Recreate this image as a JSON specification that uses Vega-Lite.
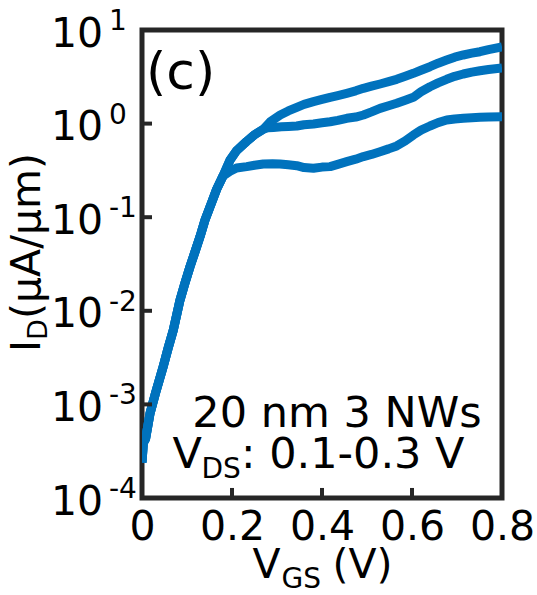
{
  "$schema": "https://vega.github.io/schema/vega-lite/v6.json",
  "width": 360,
  "height": 468,
  "autosize": {"type": "none"},
  "padding": {"left": 142, "top": 30, "right": 35, "bottom": 97},
  "background": "white",
  "config": {"font": "DejaVu Sans", "view": {"stroke": "#262626", "strokeWidth": 5}, "axis": {"grid": false}},
  "layer": [
    {
      "data": {"values": [
        {"curve":"s1","vgs":0,"id":0.00024},{"curve":"s1","vgs":0.003,"id":0.00039},{"curve":"s1","vgs":0.008,"id":0.00043},{"curve":"s1","vgs":0.0178,"id":0.0008},{"curve":"s1","vgs":0.03,"id":0.00132},{"curve":"s1","vgs":0.047,"id":0.00253},{"curve":"s1","vgs":0.058,"id":0.00398},{"curve":"s1","vgs":0.0696,"id":0.00624},{"curve":"s1","vgs":0.0844,"id":0.013},{"curve":"s1","vgs":0.095,"id":0.0195},{"curve":"s1","vgs":0.1067,"id":0.0296},{"curve":"s1","vgs":0.1178,"id":0.0427},{"curve":"s1","vgs":0.1289,"id":0.0619},{"curve":"s1","vgs":0.14,"id":0.0933},{"curve":"s1","vgs":0.155,"id":0.1445},{"curve":"s1","vgs":0.166,"id":0.1995},{"curve":"s1","vgs":0.18,"id":0.275},
        {"curve":"s1","vgs":0.1956,"id":0.309},{"curve":"s1","vgs":0.21,"id":0.335},{"curve":"s1","vgs":0.2326,"id":0.347},{"curve":"s1","vgs":0.25,"id":0.359},{"curve":"s1","vgs":0.2696,"id":0.37},{"curve":"s1","vgs":0.29,"id":0.372},{"curve":"s1","vgs":0.3067,"id":0.37},{"curve":"s1","vgs":0.325,"id":0.363},{"curve":"s1","vgs":0.344,"id":0.355},{"curve":"s1","vgs":0.36,"id":0.339},{"curve":"s1","vgs":0.381,"id":0.333},{"curve":"s1","vgs":0.4,"id":0.343},{"curve":"s1","vgs":0.418,"id":0.347},{"curve":"s1","vgs":0.435,"id":0.367},{"curve":"s1","vgs":0.455,"id":0.392},{"curve":"s1","vgs":0.475,"id":0.417},{"curve":"s1","vgs":0.492,"id":0.444},{"curve":"s1","vgs":0.51,"id":0.468},{"curve":"s1","vgs":0.529,"id":0.501},{"curve":"s1","vgs":0.548,"id":0.537},{"curve":"s1","vgs":0.566,"id":0.577},{"curve":"s1","vgs":0.585,"id":0.653},{"curve":"s1","vgs":0.603,"id":0.755},{"curve":"s1","vgs":0.62,"id":0.851},{"curve":"s1","vgs":0.64,"id":0.942},{"curve":"s1","vgs":0.658,"id":1.023},{"curve":"s1","vgs":0.677,"id":1.091},{"curve":"s1","vgs":0.695,"id":1.122},{"curve":"s1","vgs":0.714,"id":1.14},{"curve":"s1","vgs":0.733,"id":1.153},{"curve":"s1","vgs":0.751,"id":1.167},{"curve":"s1","vgs":0.77,"id":1.175},{"curve":"s1","vgs":0.8,"id":1.18},
        {"curve":"s2","vgs":0,"id":0.00024},{"curve":"s2","vgs":0.003,"id":0.00039},{"curve":"s2","vgs":0.008,"id":0.00043},{"curve":"s2","vgs":0.0178,"id":0.0008},{"curve":"s2","vgs":0.03,"id":0.00132},{"curve":"s2","vgs":0.047,"id":0.00253},{"curve":"s2","vgs":0.058,"id":0.00398},{"curve":"s2","vgs":0.0696,"id":0.00624},{"curve":"s2","vgs":0.0844,"id":0.013},{"curve":"s2","vgs":0.095,"id":0.0195},{"curve":"s2","vgs":0.1067,"id":0.0296},{"curve":"s2","vgs":0.1178,"id":0.0427},{"curve":"s2","vgs":0.1289,"id":0.0619},{"curve":"s2","vgs":0.14,"id":0.0933},{"curve":"s2","vgs":0.155,"id":0.1445},{"curve":"s2","vgs":0.166,"id":0.1995},{"curve":"s2","vgs":0.18,"id":0.275},
        {"curve":"s2","vgs":0.1956,"id":0.407},{"curve":"s2","vgs":0.21,"id":0.513},{"curve":"s2","vgs":0.2326,"id":0.646},{"curve":"s2","vgs":0.25,"id":0.759},{"curve":"s2","vgs":0.2696,"id":0.871},{"curve":"s2","vgs":0.28,"id":0.902},{"curve":"s2","vgs":0.292,"id":0.91},{"curve":"s2","vgs":0.31,"id":0.923},{"curve":"s2","vgs":0.325,"id":0.933},{"curve":"s2","vgs":0.344,"id":0.942},{"curve":"s2","vgs":0.36,"id":0.973},{"curve":"s2","vgs":0.381,"id":0.991},{"curve":"s2","vgs":0.4,"id":1.019},{"curve":"s2","vgs":0.418,"id":1.047},{"curve":"s2","vgs":0.435,"id":1.084},{"curve":"s2","vgs":0.455,"id":1.14},{"curve":"s2","vgs":0.475,"id":1.175},{"curve":"s2","vgs":0.492,"id":1.236},{"curve":"s2","vgs":0.51,"id":1.334},{"curve":"s2","vgs":0.529,"id":1.455},{"curve":"s2","vgs":0.548,"id":1.549},{"curve":"s2","vgs":0.566,"id":1.648},{"curve":"s2","vgs":0.585,"id":1.778},{"curve":"s2","vgs":0.603,"id":1.91},{"curve":"s2","vgs":0.62,"id":2.188},{"curve":"s2","vgs":0.64,"id":2.477},{"curve":"s2","vgs":0.658,"id":2.723},{"curve":"s2","vgs":0.677,"id":2.972},{"curve":"s2","vgs":0.695,"id":3.199},{"curve":"s2","vgs":0.714,"id":3.388},{"curve":"s2","vgs":0.733,"id":3.548},{"curve":"s2","vgs":0.751,"id":3.673},{"curve":"s2","vgs":0.77,"id":3.784},{"curve":"s2","vgs":0.8,"id":3.936},
        {"curve":"s3","vgs":0,"id":0.00024},{"curve":"s3","vgs":0.003,"id":0.00039},{"curve":"s3","vgs":0.008,"id":0.00043},{"curve":"s3","vgs":0.0178,"id":0.0008},{"curve":"s3","vgs":0.03,"id":0.00132},{"curve":"s3","vgs":0.047,"id":0.00253},{"curve":"s3","vgs":0.058,"id":0.00398},{"curve":"s3","vgs":0.0696,"id":0.00624},{"curve":"s3","vgs":0.0844,"id":0.013},{"curve":"s3","vgs":0.095,"id":0.0195},{"curve":"s3","vgs":0.1067,"id":0.0296},{"curve":"s3","vgs":0.1178,"id":0.0427},{"curve":"s3","vgs":0.1289,"id":0.0619},{"curve":"s3","vgs":0.14,"id":0.0933},{"curve":"s3","vgs":0.155,"id":0.1445},{"curve":"s3","vgs":0.166,"id":0.1995},{"curve":"s3","vgs":0.18,"id":0.275},
        {"curve":"s3","vgs":0.1956,"id":0.407},{"curve":"s3","vgs":0.21,"id":0.513},{"curve":"s3","vgs":0.2326,"id":0.646},{"curve":"s3","vgs":0.25,"id":0.759},{"curve":"s3","vgs":0.2696,"id":0.871},{"curve":"s3","vgs":0.285,"id":1.047},{"curve":"s3","vgs":0.307,"id":1.236},{"curve":"s3","vgs":0.325,"id":1.365},{"curve":"s3","vgs":0.344,"id":1.493},{"curve":"s3","vgs":0.36,"id":1.603},{"curve":"s3","vgs":0.381,"id":1.714},{"curve":"s3","vgs":0.4,"id":1.811},{"curve":"s3","vgs":0.418,"id":1.91},{"curve":"s3","vgs":0.435,"id":1.995},{"curve":"s3","vgs":0.455,"id":2.109},{"curve":"s3","vgs":0.475,"id":2.239},{"curve":"s3","vgs":0.492,"id":2.382},{"curve":"s3","vgs":0.51,"id":2.512},{"curve":"s3","vgs":0.529,"id":2.649},{"curve":"s3","vgs":0.548,"id":2.805},{"curve":"s3","vgs":0.566,"id":2.972},{"curve":"s3","vgs":0.585,"id":3.199},{"curve":"s3","vgs":0.603,"id":3.443},{"curve":"s3","vgs":0.62,"id":3.715},{"curve":"s3","vgs":0.64,"id":4.055},{"curve":"s3","vgs":0.658,"id":4.416},{"curve":"s3","vgs":0.677,"id":4.775},{"curve":"s3","vgs":0.695,"id":5.129},{"curve":"s3","vgs":0.714,"id":5.408},{"curve":"s3","vgs":0.733,"id":5.649},{"curve":"s3","vgs":0.751,"id":5.861},{"curve":"s3","vgs":0.77,"id":6.166},{"curve":"s3","vgs":0.8,"id":6.607}
      ]},
      "mark": {"type": "line", "color": "#0072BD", "strokeWidth": 9, "clip": true, "strokeCap": "butt", "strokeJoin": "round"},
      "encoding": {
        "x": {"field": "vgs", "type": "quantitative", "scale": {"domain": [0, 0.8], "nice": false, "zero": false},
          "axis": {"title": null, "orient": "bottom", "domain": false, "ticks": false, "values": [0, 0.2, 0.4, 0.6, 0.8], "labelExpr": "datum.value == 0 ? '0' : format(datum.value, '.1f')", "labelFontSize": 41, "labelColor": "black", "labelFlush": false, "labelOverlap": false, "labelPadding": 9}},
        "y": {"field": "id", "type": "quantitative", "scale": {"type": "log", "domain": [0.0001, 10], "nice": false},
          "axis": {"title": null, "orient": "left", "domain": false, "ticks": false, "values": [0.0001, 0.001, 0.01, 0.1, 1, 10], "labelExpr": "'10'", "labelFontSize": 41, "labelColor": "black", "labelAlign": "left", "labelBaseline": "alphabetic", "labelOffset": 16, "labelOverlap": false, "labelPadding": 91.5}},
        "detail": {"field": "curve"}
      }
    },
    {
      "data": {"values": [{"t": 0.2}, {"t": 0.4}, {"t": 0.6}]},
      "mark": {"type": "rule", "color": "#262626", "strokeWidth": 4},
      "encoding": {
        "x": {"field": "t", "type": "quantitative", "scale": {"domain": [0, 0.8], "nice": false, "zero": false}, "axis": {"title": null}},
        "y": {"datum": 0.0001, "type": "quantitative", "scale": {"type": "log", "domain": [0.0001, 10], "nice": false}, "axis": {"title": null}},
        "y2": {"datum": 0.000128}
      }
    },
    {
      "data": {"values": [{"t": 0.001}, {"t": 0.01}, {"t": 0.1}, {"t": 1}]},
      "mark": {"type": "rule", "color": "#262626", "strokeWidth": 4},
      "encoding": {
        "y": {"field": "t", "type": "quantitative", "scale": {"type": "log", "domain": [0.0001, 10], "nice": false}, "axis": {"title": null}},
        "x": {"datum": 0, "type": "quantitative", "scale": {"domain": [0, 0.8], "nice": false, "zero": false}, "axis": {"title": null}},
        "x2": {"datum": 0.0222}
      }
    },
    {
      "data": {"values": [{"p": 10, "e": "1"}, {"p": 1, "e": "0"}, {"p": 0.1, "e": "-1"}, {"p": 0.01, "e": "-2"}, {"p": 0.001, "e": "-3"}, {"p": 0.0001, "e": "-4"}]},
      "mark": {"type": "text", "fontSize": 28, "align": "left", "baseline": "alphabetic", "dy": 0, "color": "black"},
      "encoding": {
        "x": {"datum": -0.0733, "type": "quantitative", "scale": {"domain": [0, 0.8], "nice": false, "zero": false}, "axis": {"title": null}},
        "y": {"field": "p", "type": "quantitative", "scale": {"type": "log", "domain": [0.0001, 10], "nice": false}, "axis": {"title": null}},
        "text": {"field": "e"}
      }
    },
    {
      "data": {"values": [{}]},
      "mark": {"type": "text", "text": "(c)", "fontSize": 52, "align": "left", "baseline": "alphabetic", "color": "black"},
      "encoding": {
        "x": {"datum": 0.0089, "type": "quantitative", "scale": {"domain": [0, 0.8], "nice": false, "zero": false}, "axis": {"title": null}},
        "y": {"datum": 2.343, "type": "quantitative", "scale": {"type": "log", "domain": [0.0001, 10], "nice": false}, "axis": {"title": null}}
      }
    },
    {
      "data": {"values": [{}]},
      "mark": {"type": "text", "text": "20 nm 3 NWs", "fontSize": 43, "align": "center", "baseline": "alphabetic", "color": "black"},
      "encoding": {
        "x": {"datum": 0.4333, "type": "quantitative", "scale": {"domain": [0, 0.8], "nice": false, "zero": false}, "axis": {"title": null}},
        "y": {"datum": 0.000574, "type": "quantitative", "scale": {"type": "log", "domain": [0.0001, 10], "nice": false}, "axis": {"title": null}}
      }
    },
    {
      "data": {"values": [{}]},
      "mark": {"type": "text", "text": "V", "fontSize": 43, "align": "left", "baseline": "alphabetic", "color": "black"},
      "encoding": {
        "x": {"datum": 0.0678, "type": "quantitative", "scale": {"domain": [0, 0.8], "nice": false, "zero": false}, "axis": {"title": null}},
        "y": {"datum": 0.000209, "type": "quantitative", "scale": {"type": "log", "domain": [0.0001, 10], "nice": false}, "axis": {"title": null}}
      }
    },
    {
      "data": {"values": [{}]},
      "mark": {"type": "text", "text": "DS", "fontSize": 28, "align": "left", "baseline": "alphabetic", "dx": 29, "dy": 10, "color": "black"},
      "encoding": {
        "x": {"datum": 0.0678, "type": "quantitative", "scale": {"domain": [0, 0.8], "nice": false, "zero": false}, "axis": {"title": null}},
        "y": {"datum": 0.000209, "type": "quantitative", "scale": {"type": "log", "domain": [0.0001, 10], "nice": false}, "axis": {"title": null}}
      }
    },
    {
      "data": {"values": [{}]},
      "mark": {"type": "text", "text": ": 0.1-0.3 V", "fontSize": 43, "align": "left", "baseline": "alphabetic", "dx": 68.5, "color": "black"},
      "encoding": {
        "x": {"datum": 0.0678, "type": "quantitative", "scale": {"domain": [0, 0.8], "nice": false, "zero": false}, "axis": {"title": null}},
        "y": {"datum": 0.000209, "type": "quantitative", "scale": {"type": "log", "domain": [0.0001, 10], "nice": false}, "axis": {"title": null}}
      }
    },
    {
      "data": {"values": [{}]},
      "mark": {"type": "text", "text": "V", "fontSize": 41, "align": "left", "baseline": "alphabetic", "color": "black"},
      "encoding": {
        "x": {"datum": 0.2456, "type": "quantitative", "scale": {"domain": [0, 0.8], "nice": false, "zero": false}, "axis": {"title": null}},
        "y": {"datum": 0.00001396, "type": "quantitative", "scale": {"type": "log", "domain": [0.0001, 10], "nice": false}, "axis": {"title": null}}
      }
    },
    {
      "data": {"values": [{}]},
      "mark": {"type": "text", "text": "GS", "fontSize": 28, "align": "left", "baseline": "alphabetic", "dx": 29, "dy": 10, "color": "black"},
      "encoding": {
        "x": {"datum": 0.2456, "type": "quantitative", "scale": {"domain": [0, 0.8], "nice": false, "zero": false}, "axis": {"title": null}},
        "y": {"datum": 0.00001396, "type": "quantitative", "scale": {"type": "log", "domain": [0.0001, 10], "nice": false}, "axis": {"title": null}}
      }
    },
    {
      "data": {"values": [{}]},
      "mark": {"type": "text", "text": "(V)", "fontSize": 41, "align": "left", "baseline": "alphabetic", "dx": 80, "color": "black"},
      "encoding": {
        "x": {"datum": 0.2456, "type": "quantitative", "scale": {"domain": [0, 0.8], "nice": false, "zero": false}, "axis": {"title": null}},
        "y": {"datum": 0.00001396, "type": "quantitative", "scale": {"type": "log", "domain": [0.0001, 10], "nice": false}, "axis": {"title": null}}
      }
    },
    {
      "data": {"values": [{}]},
      "mark": {"type": "text", "text": "I", "fontSize": 41, "align": "left", "baseline": "alphabetic", "angle": 270, "color": "black"},
      "encoding": {
        "x": {"datum": -0.2267, "type": "quantitative", "scale": {"domain": [0, 0.8], "nice": false, "zero": false}, "axis": {"title": null}},
        "y": {"datum": 0.00363, "type": "quantitative", "scale": {"type": "log", "domain": [0.0001, 10], "nice": false}, "axis": {"title": null}}
      }
    },
    {
      "data": {"values": [{}]},
      "mark": {"type": "text", "text": "D", "fontSize": 27, "align": "left", "baseline": "alphabetic", "angle": 270, "dx": 12, "dy": 7, "color": "black"},
      "encoding": {
        "x": {"datum": -0.2267, "type": "quantitative", "scale": {"domain": [0, 0.8], "nice": false, "zero": false}, "axis": {"title": null}},
        "y": {"datum": 0.00363, "type": "quantitative", "scale": {"type": "log", "domain": [0.0001, 10], "nice": false}, "axis": {"title": null}}
      }
    },
    {
      "data": {"values": [{}]},
      "mark": {"type": "text", "text": "(μA/μm)", "fontSize": 41, "align": "left", "baseline": "alphabetic", "angle": 270, "dx": 33, "color": "black"},
      "encoding": {
        "x": {"datum": -0.2267, "type": "quantitative", "scale": {"domain": [0, 0.8], "nice": false, "zero": false}, "axis": {"title": null}},
        "y": {"datum": 0.00363, "type": "quantitative", "scale": {"type": "log", "domain": [0.0001, 10], "nice": false}, "axis": {"title": null}}
      }
    }
  ]
}
